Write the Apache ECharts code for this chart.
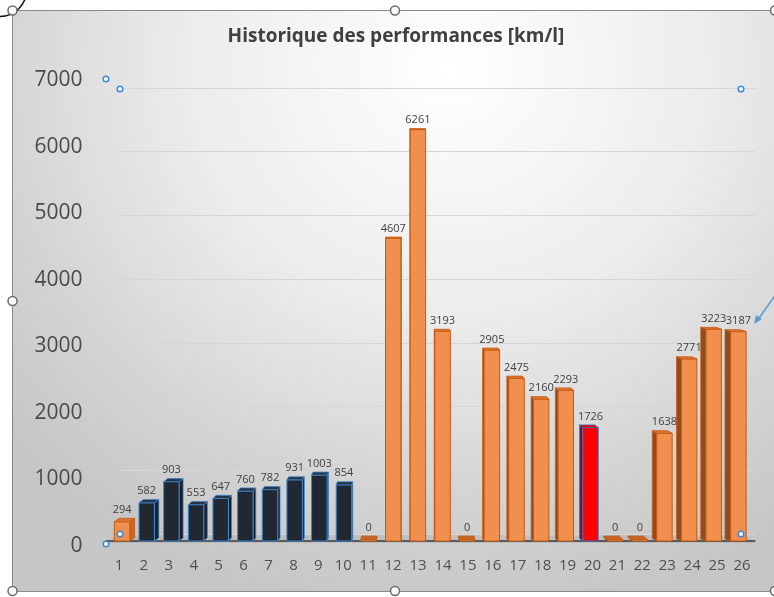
<!DOCTYPE html>
<html>
<head>
<meta charset="utf-8">
<script src="https://cdn.jsdelivr.net/npm/echarts@6/dist/echarts.min.js"></script>
<style>
  html, body { margin: 0; padding: 0; background: #fff; }
  #frame {
    position: absolute; left: 12px; top: 10px; width: 780px; height: 580px;
    border: 1px solid #8a8a8a;
    background: radial-gradient(ellipse 75% 95% at 56% 10%, #ffffff 0%, #ececec 45%, #d2d2d2 80%, #c6c6c6 100%);
  }
  #chart { position: absolute; left: 0; top: 0; width: 774px; height: 597px; }
</style>
</head>
<body>
<div id="frame"></div>
<div id="chart"></div>
<script>
// chart data
const categories = ['1','2','3','4','5','6','7','8','9','10','11','12','13','14','15','16','17','18','19','20','21','22','23','24','25','26']
const performances = [294, 582, 903, 553, 647, 760, 782, 931, 1003, 854, 0, 4607, 6261, 3193, 0, 2905, 2475, 2160, 2293, 1726, 0, 0, 1638, 2771, 3223, 3187]
const yTicks = [0, 1000, 2000, 3000, 4000, 5000, 6000, 7000]

const FONT = '"Open Sans", "Liberation Sans", sans-serif'

// colours of the three bar kinds
const styles = {
  orange: { front: '#f08f4e', side: '#8e4c22', sideLight: '#c9662a', top: '#dd7636', stroke: '#c55a11' },
  navy: { front: '#212832', side: '#1a1f27', sideLight: '#1a1f27', top: '#2a3441', stroke: '#3a87cf' },
  red: { front: '#ff0000', side: '#7a1020', sideLight: '#7a1020', top: '#e00000', stroke: '#3f6fb5' }
}

const kindOf = (n) => {
  if (n >= 2 && n <= 10) return 'navy'
  if (n === 20) return 'red'
  return 'orange'
}

// fake 3D column: front face + side face + top face
const renderBar = (params, api) => {
  const idx = api.value(0)
  const val = api.value(1)
  const n = idx + 1
  const base = api.coord([idx, 0])
  const top = api.coord([idx, val])
  const band = api.size([1, 0])[0]
  const w = band * 0.62
  const cx = base[0] + (12.5 - n) * 0.27
  const depth = (12.5 - n) * 0.42
  const dy = val === 0 ? 3.5 : Math.max(1, 3.5 - val / 2000)
  const x0 = cx - w / 2
  const x1 = cx + w / 2
  const yB = base[1]
  const yT = val === 0 ? yB - 1.5 : top[1]
  const st = styles[kindOf(n)]
  const edge = depth > 0 ? x1 : x0
  const children = []

  children.push({
    type: 'polygon',
    shape: { points: [[edge, yB], [edge, yT], [edge + depth, yT - dy], [edge + depth, yB - dy]] },
    style: { fill: depth > 0 ? st.sideLight : st.side, stroke: st.stroke, lineWidth: 0.8 }
  })
  children.push({
    type: 'rect',
    shape: { x: x0, y: yT, width: w, height: yB - yT },
    style: { fill: st.front, stroke: st.stroke, lineWidth: 1 }
  })
  children.push({
    type: 'polygon',
    shape: { points: [[x0, yT], [x1, yT], [x1 + depth, yT - dy], [x0 + depth, yT - dy]] },
    style: { fill: val === 0 ? '#c4672f' : st.top, stroke: st.stroke, lineWidth: 0.8 }
  })
  children.push({
    type: 'text',
    style: {
      x: cx, y: yT - dy - 3,
      text: String(val),
      font: '11px ' + FONT,
      fill: '#404040',
      align: 'center',
      verticalAlign: 'bottom'
    }
  })
  return { type: 'group', children }
}

const handle = (x, y) => ({
  type: 'circle', z: 100,
  shape: { cx: x, cy: y, r: 4.5 },
  style: { fill: '#fff', stroke: '#6b6b6b', lineWidth: 1.5 }
})
const blueHandle = (x, y) => ({
  type: 'circle', z: 100,
  shape: { cx: x, cy: y, r: 2.8 },
  style: { fill: '#fff', stroke: '#3b8ad9', lineWidth: 1.5 }
})

const chart = echarts.init(document.getElementById('chart'))

const option = {
  backgroundColor: 'transparent',
  animation: false,
  title: {
    text: 'Historique des performances [km/l]',
    left: 391,
    textAlign: 'center',
    top: 22,
    textStyle: { fontFamily: FONT, fontSize: 19, fontWeight: 'bold', color: '#404040' }
  },
  grid: [
    // front plane: bars
    { left: 106.5, right: 19.5, top: 81, bottom: 56 },
    // back wall: gridlines
    { left: 119, right: 19, top: 88, bottom: 63 },
    // value labels on the left wall edge
    { left: 106.5, right: 19.5, top: 80, bottom: 51 }
  ],
  xAxis: [
    {
      type: 'category',
      gridIndex: 0,
      data: categories,
      axisLine: { lineStyle: { color: '#5a5a5a', width: 2 } },
      axisTick: { show: false },
      axisLabel: { color: '#4f4f4f', fontSize: 15, fontFamily: FONT, margin: 17, interval: 0 }
    },
    { type: 'category', gridIndex: 1, data: categories, show: false },
    { type: 'category', gridIndex: 2, data: categories, show: false }
  ],
  yAxis: [
    {
      type: 'value',
      gridIndex: 0,
      min: yTicks[0],
      max: yTicks[yTicks.length - 1],
      interval: 1000,
      show: false
    },
    {
      type: 'value',
      gridIndex: 1,
      min: yTicks[0],
      max: yTicks[yTicks.length - 1],
      interval: 1000,
      axisLine: { show: false },
      axisTick: { show: false },
      axisLabel: { show: false },
      splitLine: { lineStyle: { color: '#d6d6d6', width: 1 } }
    },
    {
      type: 'value',
      gridIndex: 2,
      min: yTicks[0],
      max: yTicks[yTicks.length - 1],
      interval: 1000,
      axisLine: { show: false },
      axisTick: { show: false },
      splitLine: { show: false },
      axisLabel: { color: '#4a4a4a', fontSize: 21, fontFamily: FONT, margin: 24, formatter: (v) => String(v) }
    }
  ],
  series: [
    {
      type: 'custom',
      xAxisIndex: 0,
      yAxisIndex: 0,
      clip: false,
      renderItem: renderBar,
      encode: { x: 0, y: 1 },
      data: performances.map((v, i) => [i, v])
    }
  ],
  graphic: [
    // floor of the 3D plot
    {
      type: 'polygon', z: -1,
      shape: { points: [[106, 543], [756, 543], [744, 534], [119, 534]] },
      style: { fill: 'rgba(0,0,0,0.07)' }
    },
    // selection decorations
    {
      type: 'arc', z: 100,
      shape: { cx: 0, cy: -10, r: 26.5, startAngle: 0, endAngle: Math.PI },
      style: { fill: null, stroke: '#111', lineWidth: 1.5 }
    },
    handle(12.5, 10.5), handle(395, 10.5), handle(775, 10.5),
    handle(12.5, 301), handle(12.5, 591), handle(395, 591), handle(775, 591),
    blueHandle(106, 79), blueHandle(120, 89), blueHandle(741, 89),
    blueHandle(106, 544), blueHandle(120, 534), blueHandle(741, 534),
    {
      type: 'line', z: 100,
      shape: { x1: 776, y1: 294, x2: 757, y2: 321 },
      style: { stroke: '#5b9bd5', lineWidth: 1.5 }
    },
    {
      type: 'polygon', z: 100,
      shape: { points: [[754, 324], [756, 315], [762, 319]] },
      style: { fill: '#5b9bd5' }
    }
  ]
}

chart.setOption(option)

window.addEventListener('resize', () => {
  chart.resize()
})
</script>
</body>
</html>
